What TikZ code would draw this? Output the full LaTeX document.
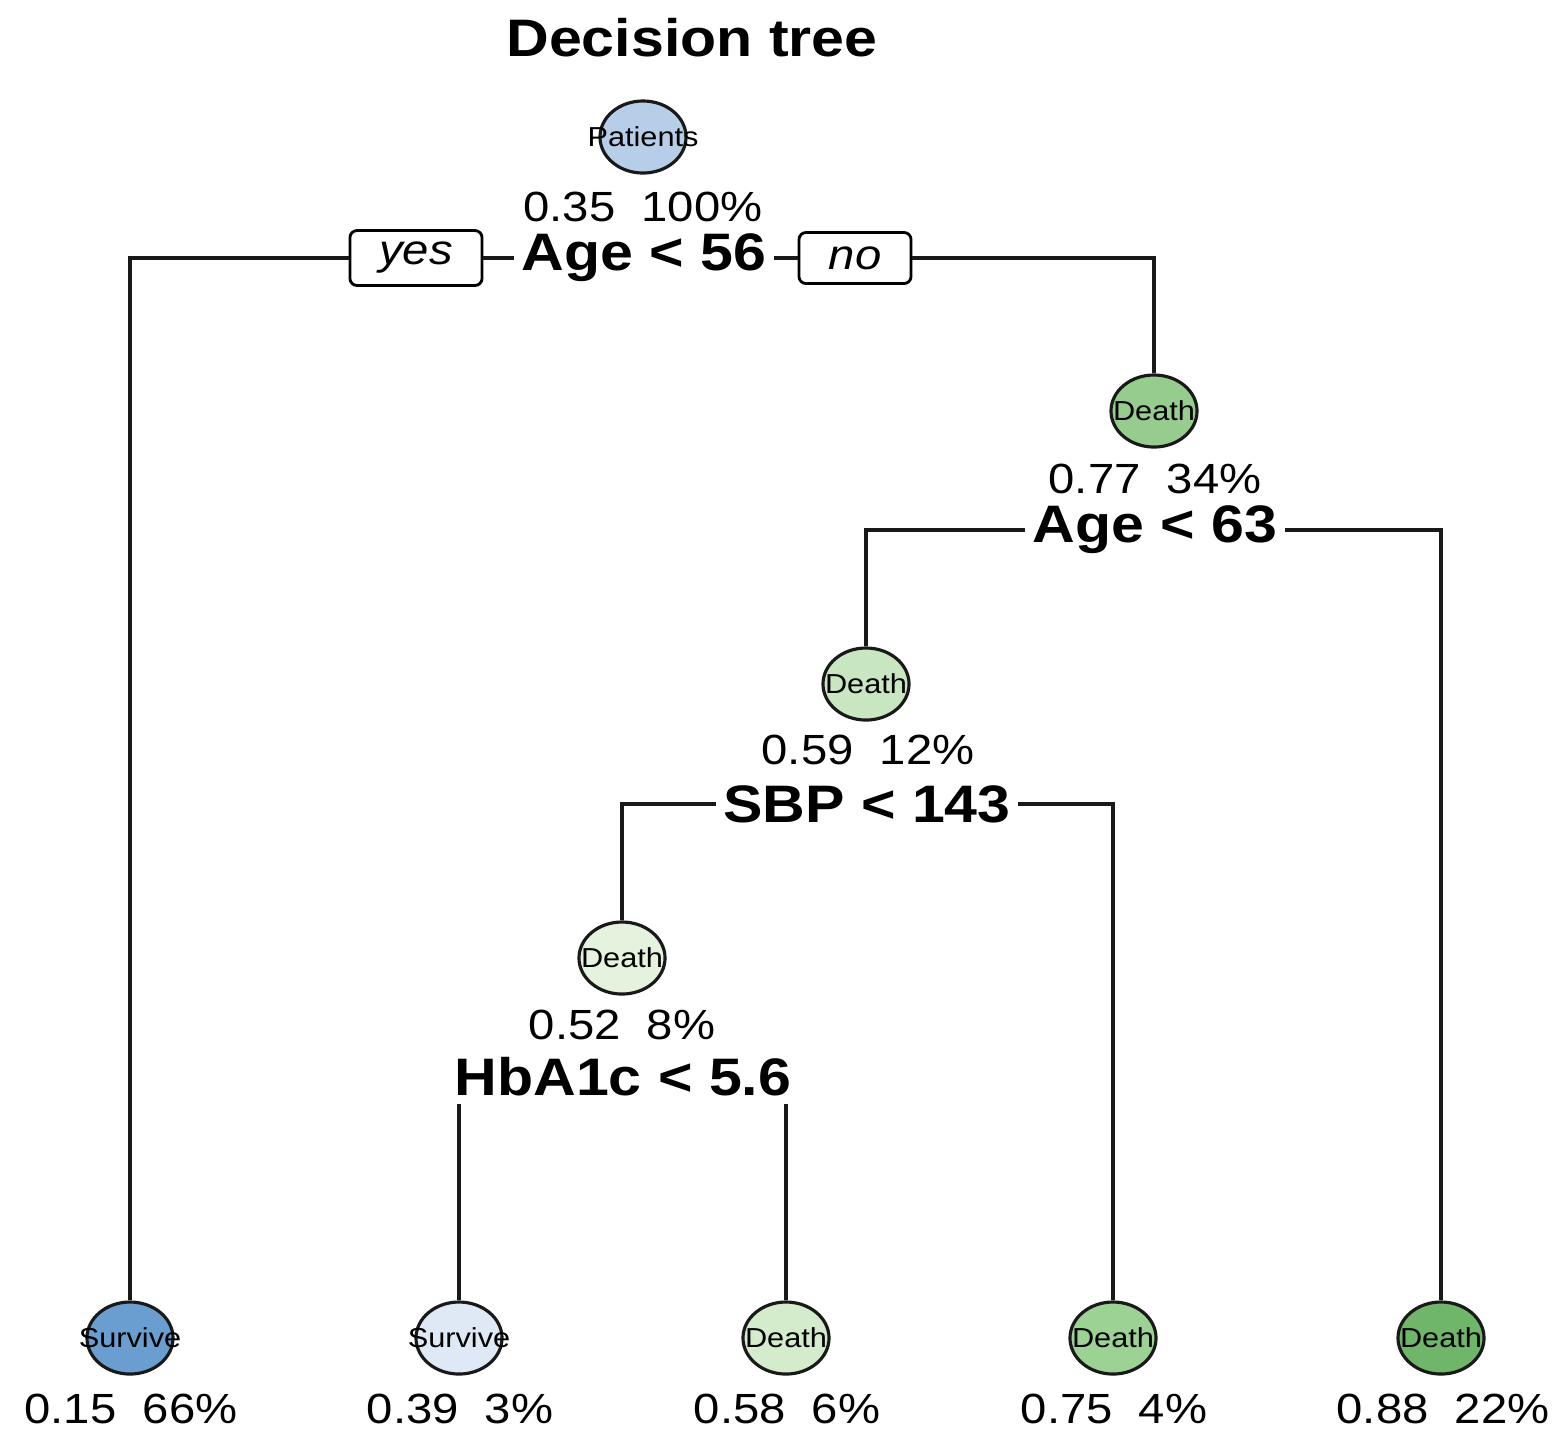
\documentclass[tikz,border=0pt]{standalone}
\usepackage{fontspec}
\setmainfont{Liberation Sans}[FakeStretch=1.12]
\usetikzlibrary{shapes.geometric}

\definecolor{rootblue}{RGB}{183,206,232}
\definecolor{survdark}{RGB}{106,158,208}
\definecolor{survlight}{RGB}{222,233,245}
\definecolor{deathA}{RGB}{150,204,142}
\definecolor{deathB}{RGB}{200,230,192}
\definecolor{deathC}{RGB}{228,242,222}
\definecolor{deathD}{RGB}{212,236,204}
\definecolor{deathE}{RGB}{156,210,148}
\definecolor{deathF}{RGB}{112,182,106}

\newcommand{\intext}[1]{\makebox[0pt]{\fontsize{7.8}{9}\selectfont #1}}

\begin{document}
\begin{tikzpicture}[
    x=0.01cm, y=-0.01cm,
    leaf/.style={ellipse, draw=black!90, line width=0.9pt, minimum width=0.86cm, minimum height=0.72cm, inner sep=0pt},
    stat/.style={font=\fontsize{12}{14}\selectfont},
    split/.style={font=\bfseries\fontsize{15}{18}\selectfont, inner sep=2pt},
    yn/.style={draw, rounded corners=2pt, fill=white, minimum height=0.51cm, line width=0.8pt, font=\itshape\fontsize{12}{14}\selectfont},
    edge/.style={line width=0.9pt, black!90}
]
\useasboundingbox[fill=white] (0,0) rectangle (1558,1432);

% title
\node[font=\bfseries\fontsize{15}{18}\selectfont] (title) at (692,38) {Decision tree};

% root
\node[leaf, fill=rootblue] (root) at (643,137) {\intext{Patients}};
\node[stat] (rootstat) at (643,207) {0.35\ \ 100\%};
\node[split] (age56) at (644,258) {Age < 56};
\node[yn, minimum width=1.32cm] (yes) at (416,258) {yes};
\node[yn, minimum width=1.12cm] (no) at (855,258) {no};

% inner nodes
\node[leaf, fill=deathA] (deathA) at (1154,411) {\intext{Death}};
\node[stat] (statA) at (1155,479) {0.77\ \ 34\%};
\node[split] (age63) at (1155,530) {Age < 63};

\node[leaf, fill=deathB] (deathB) at (866,684) {\intext{Death}};
\node[stat] (statB) at (868,750) {0.59\ \ 12\%};
\node[split] (sbp) at (867,804) {SBP < 143};

\node[leaf, fill=deathC] (deathC) at (622,958) {\intext{Death}};
\node[stat] (statC) at (622,1025) {0.52\ \ 8\%};
\node[split] (hba) at (623,1077) {HbA1c < 5.6};

% leaves
\node[leaf, fill=survdark] (leafA) at (130,1338) {\intext{Survive}};
\node[leaf, fill=survlight] (leafB) at (459,1338) {\intext{Survive}};
\node[leaf, fill=deathD] (leafC) at (786,1338) {\intext{Death}};
\node[leaf, fill=deathE] (leafD) at (1113,1338) {\intext{Death}};
\node[leaf, fill=deathF] (leafE) at (1441,1338) {\intext{Death}};

\node[stat] (statLA) at (131,1409) {0.15\ \ 66\%};
\node[stat] (statLB) at (460,1409) {0.39\ \ 3\%};
\node[stat] (statLC) at (787,1409) {0.58\ \ 6\%};
\node[stat] (statLD) at (1114,1409) {0.75\ \ 4\%};
\node[stat] (statLE) at (1443,1409) {0.88\ \ 22\%};

% branches
\draw[edge] (age56.west) -- (yes.east);
\draw[edge] (yes.west) -| (leafA.north);
\draw[edge] (age56.east) -- (no.west);
\draw[edge] (no.east) -| (deathA.north);
\draw[edge] (age63.west) -| (deathB.north);
\draw[edge] (age63.east) -| (leafE.north);
\draw[edge] (sbp.west) -| (deathC.north);
\draw[edge] (sbp.east) -| (leafD.north);
\draw[edge] (hba.south -| leafB) -- (leafB.north);
\draw[edge] (hba.south -| leafC) -- (leafC.north);

\end{tikzpicture}
\end{document}
